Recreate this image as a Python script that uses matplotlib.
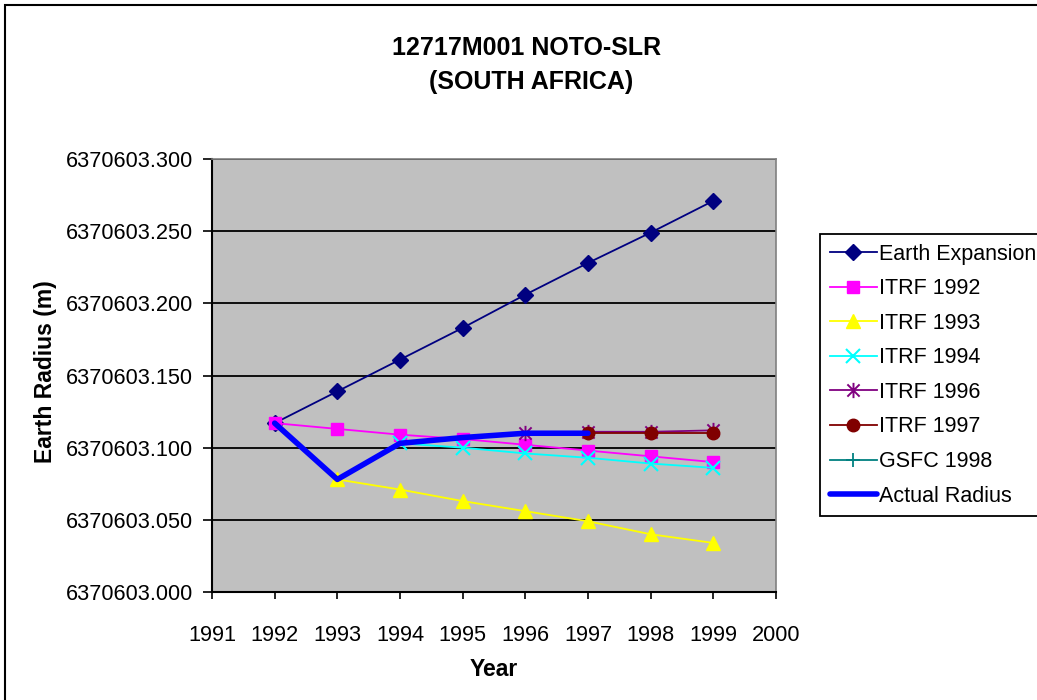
import numpy as np
import matplotlib
matplotlib.use("Agg")
import matplotlib.pyplot as plt
from matplotlib.path import Path
from matplotlib.patches import Rectangle
from matplotlib.ticker import FixedLocator, FormatStrFormatter

plt.rcParams['font.family'] = ['Liberation Sans', 'DejaVu Sans']

# ---- data: station radius (m) per year ----
years_expansion = [1992, 1993, 1994, 1995, 1996, 1997, 1998, 1999]
earth_expansion = [6370603.117, 6370603.139, 6370603.161, 6370603.183,
                   6370603.206, 6370603.228, 6370603.249, 6370603.271]

years_itrf92 = [1992, 1993, 1994, 1995, 1996, 1997, 1998, 1999]
itrf_1992 = [6370603.117, 6370603.113, 6370603.109, 6370603.106,
             6370603.102, 6370603.098, 6370603.094, 6370603.090]

years_itrf93 = [1993, 1994, 1995, 1996, 1997, 1998, 1999]
itrf_1993 = [6370603.078, 6370603.071, 6370603.063, 6370603.056,
             6370603.049, 6370603.040, 6370603.034]

years_itrf94 = [1994, 1995, 1996, 1997, 1998, 1999]
itrf_1994 = [6370603.103, 6370603.100, 6370603.096, 6370603.093,
             6370603.089, 6370603.086]

years_itrf96 = [1996, 1997, 1998, 1999]
itrf_1996 = [6370603.110, 6370603.111, 6370603.111, 6370603.112]

years_itrf97 = [1997, 1998, 1999]
itrf_1997 = [6370603.110, 6370603.110, 6370603.110]

years_gsfc98 = [1998]
gsfc_1998 = [np.nan]

years_actual = [1992, 1993, 1994, 1995, 1996, 1997]
actual_radius = [6370603.117, 6370603.078, 6370603.103, 6370603.107,
                 6370603.110, 6370603.110]

x_ticks = [1991, 1992, 1993, 1994, 1995, 1996, 1997, 1998, 1999, 2000]
y_ticks = [6370603.000, 6370603.050, 6370603.100, 6370603.150,
           6370603.200, 6370603.250, 6370603.300]

title_line1 = "12717M001 NOTO-SLR"
title_line2 = "(SOUTH AFRICA)"

# ---- figure layout (pixel based) ----
W, H = 1037, 700
fig = plt.figure(figsize=(W / 100, H / 100), dpi=100)


def fx(px):
    return px / W


def fy(py):
    return 1 - py / H


# outer chart frame
fig.patches.append(Rectangle((fx(5), fy(1200)), fx(1200), fy(5) - fy(1200),
                             transform=fig.transFigure, fill=False,
                             edgecolor='black', linewidth=1.5, zorder=0))

ax_l, ax_r, ax_t, ax_b = 212, 776, 159, 592
ax = fig.add_axes([fx(ax_l), fy(ax_b), fx(ax_r - ax_l), fy(ax_t) - fy(ax_b)])
ax.set_facecolor('#C0C0C0')

# asterisk marker: x with a vertical bar
star_path = Path([(-1, -1), (1, 1), (-1, 1), (1, -1), (0, -1.25), (0, 1.25)],
                 [Path.MOVETO, Path.LINETO] * 3)

lw = 1.3
ax.plot(years_expansion, earth_expansion, color='#000080', lw=lw,
        marker='D', ms=8.5, label='Earth Expansion', zorder=3)
ax.plot(years_itrf92, itrf_1992, color='#FF00FF', lw=lw,
        marker='s', ms=8.5, mfc='#FF00FF', mec='#FF00FF', label='ITRF 1992', zorder=4)
ax.plot(years_itrf93, itrf_1993, color='#FFFF00', lw=lw,
        marker='^', ms=10, label='ITRF 1993', zorder=5)
ax.plot(years_itrf94, itrf_1994, color='#00FFFF', lw=lw,
        marker='x', ms=9.5, mew=1.5, label='ITRF 1994', zorder=6)
ax.plot(years_itrf96, itrf_1996, color='#800080', lw=lw,
        marker=star_path, ms=11, mew=1.4, fillstyle='none', label='ITRF 1996', zorder=7)
ax.plot(years_itrf97, itrf_1997, color='#800000', lw=lw,
        marker='o', ms=9, label='ITRF 1997', zorder=8)
ax.plot(years_gsfc98, gsfc_1998, color='#008080', lw=lw,
        marker='+', ms=10, mew=1.3, label='GSFC 1998', zorder=9)
ax.plot(years_actual, actual_radius, color='#0000FF', lw=4,
        solid_capstyle='round', label='Actual Radius', zorder=10)

ax.set_xlim(1991, 2000)
ax.set_ylim(6370603.0, 6370603.3)
ax.xaxis.set_major_locator(FixedLocator(x_ticks))
ax.yaxis.set_major_locator(FixedLocator(y_ticks))
ax.yaxis.set_major_formatter(FormatStrFormatter('%.3f'))
ax.xaxis.set_major_formatter(FormatStrFormatter('%d'))

ax.grid(axis='y', color='black', linewidth=1.3, zorder=1)
ax.set_axisbelow(True)

ax.tick_params(axis='y', direction='out', length=6.5, width=1.2,
               labelsize=15.7, pad=7, colors='black')
ax.tick_params(axis='x', direction='out', length=5, width=1.2,
               labelsize=15.7, pad=19, colors='black')

for side in ('left', 'bottom'):
    ax.spines[side].set_color('black')
    ax.spines[side].set_linewidth(1.5)
for side in ('top', 'right'):
    ax.spines[side].set_color('#808080')
    ax.spines[side].set_linewidth(1.2)

# titles and axis names
fig.text(fx(527), fy(48), title_line1, ha='center', va='center',
         fontsize=18, fontweight='bold')
fig.text(fx(531), fy(82), title_line2, ha='center', va='center',
         fontsize=18, fontweight='bold')
fig.text(fx(46), fy(372), "Earth Radius (m)", ha='center', va='center',
         rotation=90, fontsize=16.5, fontweight='bold')
fig.text(fx(494), fy(669), "Year", ha='center', va='center',
         fontsize=16.5, fontweight='bold')

leg = fig.legend(loc='upper left', bbox_to_anchor=(fx(820), fy(234)),
                 bbox_transform=fig.transFigure, fontsize=15.5,
                 frameon=True, fancybox=False, shadow=False,
                 edgecolor='black', framealpha=1.0, borderaxespad=0,
                 borderpad=0.45, labelspacing=0.63, handlelength=2.2,
                 handletextpad=0.1)
leg.get_frame().set_linewidth(1.3)

fig.savefig("out.png", dpi=100)
